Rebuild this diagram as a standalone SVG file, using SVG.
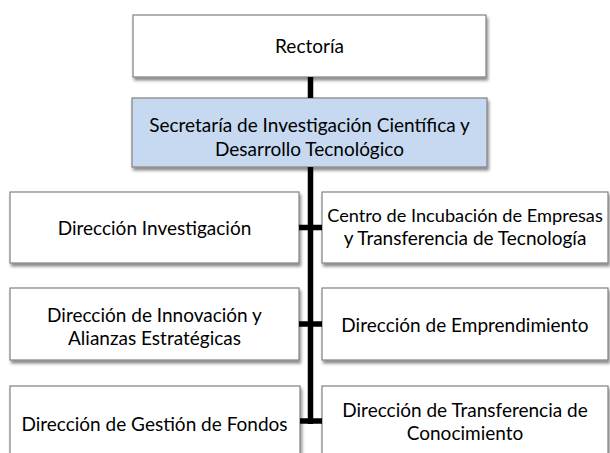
<svg xmlns="http://www.w3.org/2000/svg" width="610" height="453" viewBox="0 0 610 453">
<defs>
<filter id="sh" x="-10%" y="-20%" width="130%" height="150%">
<feDropShadow dx="1.5" dy="3" stdDeviation="1.8" flood-color="#000" flood-opacity="0.45"/>
</filter>
<style>
.box{fill:#ffffff;stroke:#808080;stroke-width:1.2;filter:url(#sh)}
.blue{fill:#c6d9f1}
.t{font-family:Lato,"Open Sans","Liberation Sans",sans-serif;font-size:19px;fill:#000;text-anchor:middle}
.c{stroke:#000;stroke-width:5.5;fill:none}
</style>
</defs>
<rect width="610" height="453" fill="#fff"/>
<g id="rectoria">
<rect class="box" x="133" y="15" width="353" height="62"/>
<text class="t" x="309.5" y="53">Rectoría</text>
</g>
<g id="secretaria">
<rect class="box blue" x="132" y="98" width="355" height="69"/>
<text class="t" x="309.5" y="131.5">Secretaría de Investigación Científica y</text>
<text class="t" x="309.5" y="156">Desarrollo Tecnológico</text>
</g>
<g id="dir-investigacion">
<rect class="box" x="10" y="192" width="289" height="71"/>
<text class="t" x="154.5" y="235">Dirección Investigación</text>
</g>
<g id="dir-innovacion">
<rect class="box" x="10" y="288" width="289" height="72"/>
<text class="t" x="154.5" y="321.7">Dirección de Innovación y</text>
<text class="t" x="154.5" y="345">Alianzas Estratégicas</text>
</g>
<g id="dir-fondos">
<rect class="box" x="10" y="386" width="290" height="72"/>
<text class="t" x="154.5" y="431">Dirección de Gestión de Fondos</text>
</g>
<g id="centro-incubacion">
<rect class="box" x="322" y="192" width="286" height="71"/>
<text class="t" x="465" y="221.7" style="font-size:18.2px">Centro de Incubación de Empresas</text>
<text class="t" x="465" y="245">y Transferencia de Tecnología</text>
</g>
<g id="dir-emprendimiento">
<rect class="box" x="322" y="288" width="286" height="72"/>
<text class="t" x="465" y="332">Dirección de Emprendimiento</text>
</g>
<g id="dir-transferencia">
<rect class="box" x="322" y="386" width="286" height="72"/>
<text class="t" x="465" y="416.7">Dirección de Transferencia de</text>
<text class="t" x="465" y="440">Conocimiento</text>
</g>
<g id="connectors">
<path class="c" d="M310.5 77V98M310.5 167V424"/>
<path class="c" d="M299 227.5H322M299 324H322M300 421H322"/>
</g>
</svg>
